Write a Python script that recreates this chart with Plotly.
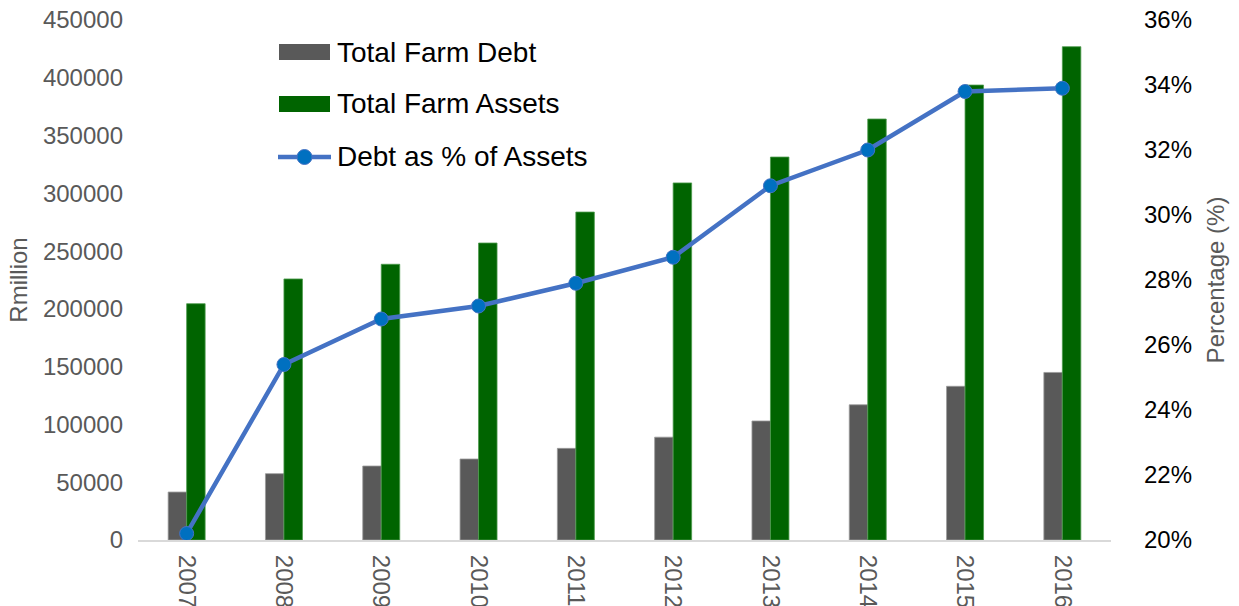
import plotly.graph_objects as go

years = ["2007", "2008", "2009", "2010", "2011", "2012", "2013", "2014", "2015", "2016"]
farm_debt = [41500, 57400, 64000, 70100, 79300, 89000, 103000, 117000, 133000, 145000]
farm_assets = [204500, 225900, 238600, 257000, 283800, 309000, 331400, 364300, 393700, 426900]
debt_pct = [0.202, 0.254, 0.268, 0.272, 0.279, 0.287, 0.309, 0.320, 0.338, 0.339]

left_ticks = [0, 50000, 100000, 150000, 200000, 250000, 300000, 350000, 400000, 450000]
right_ticks = [0.20, 0.22, 0.24, 0.26, 0.28, 0.30, 0.32, 0.34, 0.36]

GRAY = "#595959"
GREEN = "#006400"
LINE_BLUE = "#4472C4"
MARKER_BLUE = "#0070C0"
FONT = "Liberation Sans, Arial, sans-serif"

W, H = 1239, 606
M_L, M_R, M_T, M_B = 138, 128, 20, 66
PLOT_W = W - M_L - M_R
PLOT_H = H - M_T - M_B

fig = go.Figure()
fig.add_trace(go.Bar(
    x=years, y=farm_debt, name="Total Farm Debt",
    marker=dict(color=GRAY, line=dict(color="#9a9a9a", width=0.8)),
    showlegend=False,
))
fig.add_trace(go.Bar(
    x=years, y=farm_assets, name="Total Farm Assets",
    marker=dict(color=GREEN, line=dict(color="#4c9a4c", width=0.8)),
    showlegend=False,
))
fig.add_trace(go.Scatter(
    x=years, y=debt_pct, name="Debt as % of Assets", yaxis="y2",
    mode="lines+markers",
    line=dict(color=LINE_BLUE, width=4.5),
    marker=dict(color=MARKER_BLUE, size=14, line=dict(color=LINE_BLUE, width=1)),
    showlegend=False,
))

fig.update_layout(
    width=W, height=H,
    margin=dict(l=M_L, r=M_R, t=M_T, b=M_B, autoexpand=False),
    paper_bgcolor="white", plot_bgcolor="white",
    font=dict(family=FONT, size=24, color=GRAY),
    barmode="group", bargap=0.62, bargroupgap=0,
    xaxis=dict(
        type="category", range=[-0.5, len(years) - 0.5],
        tickangle=90, showgrid=False,
        showline=True, linecolor="#D9D9D9", linewidth=2,
        ticks="", tickfont=dict(size=24, color=GRAY),
        ticklabelstandoff=8, automargin=False,
    ),
    yaxis=dict(
        range=[0, 450000], tickvals=left_ticks, tickformat="d",
        showgrid=False, zeroline=False, showline=False,
        tickfont=dict(size=24, color=GRAY), ticklabelstandoff=14,
        title=dict(text="Rmillion", font=dict(size=24, color=GRAY), standoff=8),
        automargin=False,
    ),
    yaxis2=dict(
        range=[0.20, 0.36], tickvals=right_ticks, tickformat=".0%",
        overlaying="y", side="right", showgrid=False, zeroline=False,
        showline=False, tickfont=dict(size=24, color="black"),
        ticklabelstandoff=32,
        title=dict(text="Percentage (%)", font=dict(size=24, color=GRAY), standoff=16),
        automargin=False,
    ),
)

# Hand-built legend in the upper-left of the plot area (pixel -> paper coordinates)
def px_x(v):
    return (v - M_L) / PLOT_W

def px_y(v):
    return (H - M_B - v) / PLOT_H

legend_rows = [
    ("Total Farm Debt", GRAY, "bar", 52),
    ("Total Farm Assets", GREEN, "bar", 104),
    ("Debt as % of Assets", None, "line", 157),
]
for label, color, kind, yc in legend_rows:
    if kind == "bar":
        fig.add_shape(type="rect", xref="paper", yref="paper",
                      x0=px_x(279), x1=px_x(330), y0=px_y(yc + 8), y1=px_y(yc - 8),
                      fillcolor=color, line=dict(width=0))
    else:
        fig.add_shape(type="line", xref="paper", yref="paper",
                      x0=px_x(278), x1=px_x(331), y0=px_y(yc), y1=px_y(yc),
                      line=dict(color=LINE_BLUE, width=4.5))
        fig.add_shape(type="circle", xref="paper", yref="paper",
                      x0=px_x(297), x1=px_x(312), y0=px_y(yc + 7.5), y1=px_y(yc - 7.5),
                      fillcolor=MARKER_BLUE, line=dict(color=LINE_BLUE, width=1))
    fig.add_annotation(xref="paper", yref="paper", x=px_x(335), y=px_y(yc),
                       xanchor="left", yanchor="middle", showarrow=False,
                       text=label, font=dict(family=FONT, size=28, color="black"))

fig.write_html("out.html")
